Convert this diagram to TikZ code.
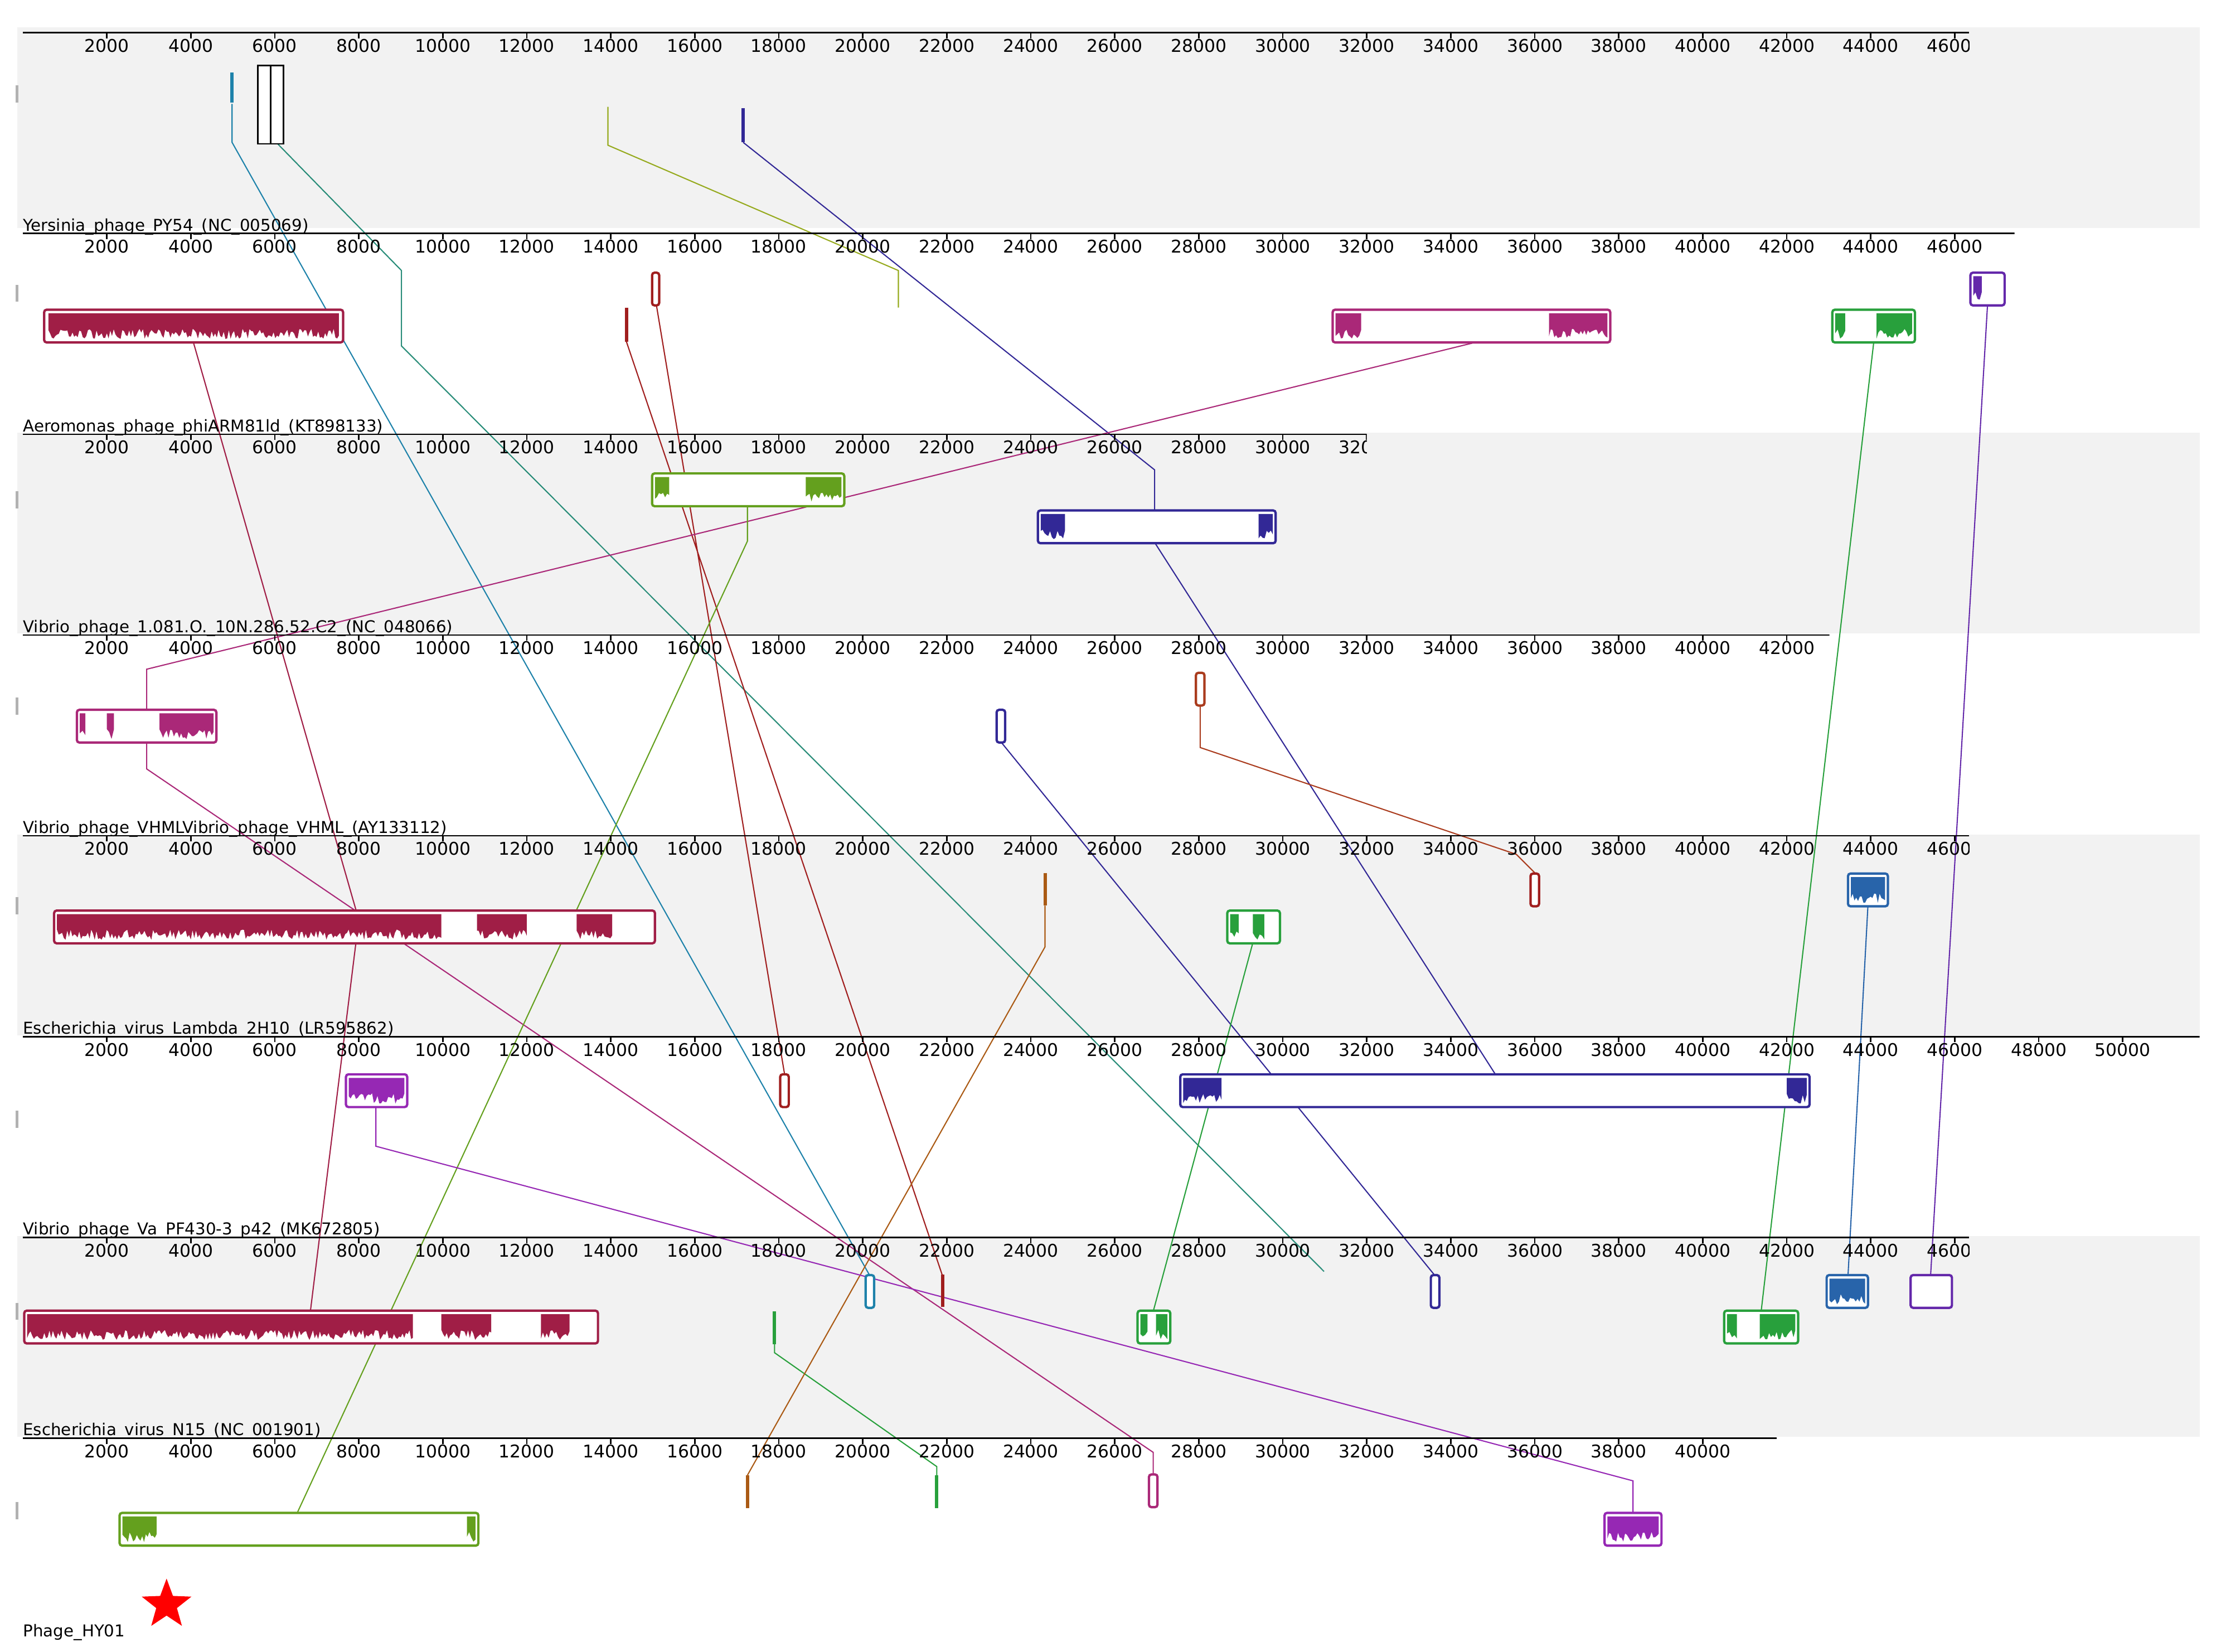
\documentclass[tikz,border=0pt]{standalone}
\usepackage{fontspec}
\setmainfont{DejaVu Sans}
\usetikzlibrary{positioning,shapes.geometric}

\definecolor{crim}{RGB}{160,30,70}
\definecolor{tealb}{RGB}{30,130,170}
\definecolor{cyang}{RGB}{40,140,120}
\definecolor{olivey}{RGB}{150,170,30}
\definecolor{navyb}{RGB}{50,40,150}
\definecolor{dred}{RGB}{160,30,30}
\definecolor{brred}{RGB}{170,60,30}
\definecolor{magb}{RGB}{170,40,120}
\definecolor{grn}{RGB}{40,160,60}
\definecolor{violb}{RGB}{100,40,170}
\definecolor{blub}{RGB}{40,100,170}
\definecolor{brn}{RGB}{170,90,20}
\definecolor{purp}{RGB}{150,40,180}
\definecolor{limeg}{RGB}{100,160,30}
\definecolor{band}{RGB}{242,242,242}

% x1, x2, y centre, colour
\newcommand{\lcb}[4]{\draw[lcb, draw=#4] (#1,#3-11.5) rectangle (#2,#3+11.5);}
% x1, x2, y centre, colour
\newcommand{\wave}[4]{\fill[#4] (#1,#3-9) -- plot[domain=#1:#2, samples={max(3,int((#2-#1)/1.2))}]
  (\x,{#3-9+18*(0.6+0.4*rnd)}) -- (#2,#3-9) -- cycle;}
% y of ruler, end x, number of ticks, name (printed above the next ruler)
\newcommand{\ruler}[4]{%
  \begin{scope}
    \clip (0,#1-20) rectangle (#2,#1+25);
    \draw[rule] (16,#1) -- (#2,#1);
    \foreach \i in {1,...,#3}{
      \pgfmathtruncatemacro{\b}{2*\i}
      \draw[rule] ({16+59*\i},#1) -- ++(0,4) node[tick] {\b000};}
  \end{scope}
  \node[gname] at (16,#1+141) {#4};}

\begin{document}
\begin{tikzpicture}[x=0.03cm, y=-0.03cm,
    rule/.style={black, line width=0.9pt},
    tick/.style={below=-1pt, font=\fontsize{10.5}{11}\selectfont, inner sep=1pt},
    gname/.style={anchor=base west, yshift=1.5pt, font=\fontsize{9.8}{10}\selectfont, inner sep=0pt},
    lcb/.style={line width=1.4pt, fill=white, rounded corners=1.5pt},
    link/.style={line width=0.7pt},
    bar/.style={line width=2pt}
  ]
  \pgfmathsetseed{7}
  \useasboundingbox (0,0) rectangle (1560,1160);

  % bands
  \foreach \t in {19,304,586,868}
    \fill[band] (12,\t) rectangle (1545,\t+141);
  \foreach \t in {60,200,345,490,630,780,915,1055}
    \fill[gray!60] (11,\t) rectangle (13,\t+12);

  % links
  \draw[link, crim] (136,241) -- (250,639) (250,662) -- (218,921);
  \draw[link, tealb] (163,73) -- (163,100) -- (611,896);
  \draw[link, cyang] (195,101) -- (282,190) -- (282,243) -- (930,893);
  \draw[link, olivey] (427,75) -- (427,102) -- (631,190) -- (631,216);
  \draw[link, navyb] (522,100) -- (811,330) -- (811,381) -- (1050,754);
  \draw[link, navyb] (703,521) -- (1008,896);
  \draw[link, dred] (461,214) -- (551,754) (440,240) -- (662,896);
  \draw[link, brred] (843,496) -- (843,525) -- (1065,600) -- (1078,613);
  \draw[link, magb] (1034,241) -- (103,470) -- (103,498) (103,521) -- (103,540) -- (810,1020) -- (810,1036);
  \draw[link, grn] (1316,241) -- (1237,921) (880,662) -- (810,921);
  \draw[link, grn] (544,944) -- (544,950) -- (658,1030) -- (658,1036);
  \draw[link, violb] (1396,214) -- (1356,896);
  \draw[link, blub] (1312,636) -- (1298,896);
  \draw[link, limeg] (525,355) -- (525,380) -- (209,1062);
  \draw[link, brn] (734,636) -- (734,665) -- (525,1036);
  \draw[link, purp] (264,777) -- (264,805) -- (1147,1040) -- (1147,1062);

  % rulers
  \ruler{23}{1383}{23}{Yersinia\_phage\_PY54\_(NC\_005069)}
  \ruler{164}{1415}{23}{Aeromonas\_phage\_phiARM81ld\_(KT898133)}
  \ruler{305}{960}{16}{Vibrio\_phage\_1.081.O.\_10N.286.52.C2\_(NC\_048066)}
  \ruler{446}{1285}{21}{Vibrio\_phage\_VHMLVibrio\_phage\_VHML\_(AY133112)}
  \ruler{587}{1383}{23}{Escherichia\_virus\_Lambda\_2H10\_(LR595862)}
  \ruler{728}{1545}{25}{Vibrio\_phage\_Va\_PF430-3\_p42\_(MK672805)}
  \ruler{869}{1383}{23}{Escherichia\_virus\_N15\_(NC\_001901)}
  \ruler{1010}{1248}{20}{Phage\_HY01}

  % track 1
  \draw[bar, tealb] (163,51) -- (163,72);
  \draw[line width=0.9pt, fill=white] (181,46) rectangle (190,101) (190,46) rectangle (199,101);
  \draw[bar, navyb] (522,76) -- (522,100);
  % track 2
  \lcb{31}{241}{229}{crim} \wave{34}{238}{229}{crim}
  \lcb{458}{463}{203}{dred} \draw[bar, dred] (440,216) -- (440,240);
  \lcb{936}{1131}{229}{magb} \wave{938}{956}{229}{magb} \wave{1088}{1129}{229}{magb}
  \lcb{1287}{1345}{229}{grn} \wave{1289}{1296}{229}{grn} \wave{1318}{1343}{229}{grn}
  \lcb{1384}{1408}{203}{violb} \wave{1386}{1392}{203}{violb}
  % track 3
  \lcb{458}{593}{344}{limeg} \wave{460}{470}{344}{limeg} \wave{566}{591}{344}{limeg}
  \lcb{729}{896}{370}{navyb} \wave{731}{748}{370}{navyb} \wave{884}{894}{370}{navyb}
  % track 4
  \lcb{54}{152}{510}{magb} \wave{56}{60}{510}{magb} \wave{75}{80}{510}{magb} \wave{112}{150}{510}{magb}
  \lcb{700}{706}{510}{navyb}
  \lcb{840}{846}{484}{brred}
  % track 5
  \lcb{38}{460}{651}{crim} \wave{40}{310}{651}{crim} \wave{335}{370}{651}{crim} \wave{405}{430}{651}{crim}
  \draw[bar, brn] (734,613) -- (734,636);
  \lcb{862}{899}{651}{grn} \wave{864}{870}{651}{grn} \wave{880}{888}{651}{grn}
  \lcb{1075}{1081}{625}{dred}
  \lcb{1298}{1326}{625}{blub} \wave{1300}{1324}{625}{blub}
  % track 6
  \lcb{243}{286}{766}{purp} \wave{245}{284}{766}{purp}
  \lcb{548}{554}{766}{dred}
  \lcb{829}{1271}{766}{navyb} \wave{831}{858}{766}{navyb} \wave{1255}{1269}{766}{navyb}
  % track 7
  \lcb{17}{420}{932}{crim} \wave{19}{290}{932}{crim} \wave{310}{345}{932}{crim} \wave{380}{400}{932}{crim}
  \lcb{608}{614}{907}{tealb}
  \draw[bar, dred] (662,895) -- (662,918);
  \draw[bar, grn] (544,921) -- (544,944);
  \lcb{799}{822}{932}{grn} \wave{801}{806}{932}{grn} \wave{812}{820}{932}{grn}
  \lcb{1005}{1011}{907}{navyb}
  \lcb{1211}{1263}{932}{grn} \wave{1213}{1220}{932}{grn} \wave{1236}{1261}{932}{grn}
  \lcb{1283}{1312}{907}{blub} \wave{1285}{1310}{907}{blub}
  \lcb{1342}{1371}{907}{violb}
  % track 8
  \lcb{84}{336}{1074}{limeg} \wave{86}{110}{1074}{limeg} \wave{328}{334}{1074}{limeg}
  \draw[bar, brn] (525,1036) -- (525,1059);
  \draw[bar, grn] (658,1036) -- (658,1059);
  \lcb{807}{813}{1047}{magb}
  \lcb{1127}{1167}{1074}{purp} \wave{1129}{1165}{1074}{purp}

  \node (star) at (117,1127) [star, star points=5, star point ratio=2.4, fill=red, minimum size=1.1cm, inner sep=0pt] {};
\end{tikzpicture}
\end{document}
